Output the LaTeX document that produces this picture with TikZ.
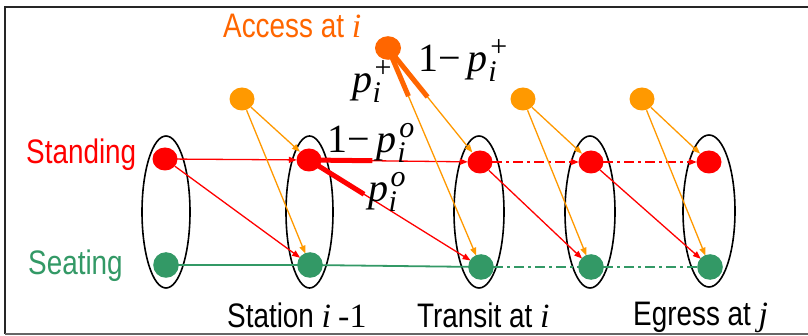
\documentclass[tikz,border=0pt]{standalone}
\usepackage{fontspec}
\usetikzlibrary{shapes.geometric,arrows.meta,calc}
\newfontfamily\arialf{Liberation Sans}
\newfontfamily\tnrf{Liberation Serif}
\definecolor{cred}{RGB}{255,0,0}
\definecolor{cgreen}{RGB}{51,153,102}
\definecolor{corange}{RGB}{255,153,0}
\definecolor{cdark}{RGB}{255,102,0}
\newcommand\nar[1]{\scalebox{0.82}[1]{\arialf #1}}
\newcommand\ti[1]{{\tnrf\itshape #1}}
\newcommand\pvar[1]{{\tnrf\itshape p}\kern0.5pt{\fontsize{30}{32}\selectfont\tnrf\rlap{\kern2pt\raisebox{15pt}{#1}}\raisebox{-10pt}{\itshape i}}}
\tikzset{
  dot/.style={circle, inner sep=0pt, minimum size=24pt},
  oval/.style={ellipse, draw=black, line width=1.6pt, inner sep=0pt, minimum width=48pt, minimum height=152pt},
  arr/.style={-{Triangle[length=8pt,width=6pt]}, line width=1.3pt},
  ddash/.style={dash pattern=on 10pt off 4pt on 3pt off 4pt},
  heavy/.style={line width=5pt},
  gline/.style={cgreen, line width=1.8pt},
  txt/.style={inner sep=0pt, anchor=base west, font=\fontsize{34}{40}\selectfont},
  mtxt/.style={inner sep=0pt, anchor=base west, font=\fontsize{40}{44}\selectfont},
}
\begin{document}
\begin{tikzpicture}[x=1pt,y={(0pt,-1pt)}]
\useasboundingbox (0,0) rectangle (808,336);
\fill[white] (0,0) rectangle (808,336);
% frame
\draw[line width=1.3pt, black!85] (808,7) -- (5,7) -- (5,334);
\draw[line width=1.3pt, black!60] (5,334) -- (808,334);

% ellipses
\node[oval] (E1) at (166,212) {};
\node[oval, minimum width=47pt] (E2) at (309.5,212) {};
\node[oval, minimum width=50pt] (E3) at (479,212) {};
\node[oval, minimum width=50pt] (E4) at (590,212) {};
\node[oval, minimum width=52pt] (E5) at (709,211) {};

% dot positions (filled later)
\node[dot] (R1) at (165,159) {};
\node[dot] (R2) at (309,160) {};
\node[dot] (R3) at (480,162) {};
\node[dot] (R4) at (591,162) {};
\node[dot] (R5) at (709,162) {};
\node[dot] (G1) at (166,265) {};
\node[dot] (G2) at (310,265) {};
\node[dot] (G3) at (481,267) {};
\node[dot] (G4) at (591,267) {};
\node[dot] (G5) at (710,267) {};
\node[dot] (O1) at (242,99) {};
\node[dot] (O2) at (523,99) {};
\node[dot] (O3) at (642,99) {};
\node[dot, minimum size=25pt] (A) at (388,48) {};

% green connectors
\draw[gline] (G1) -- (G2);
\draw[gline] (G2) -- (G3);
\draw[gline, ddash] (G3) -- (G4);
\draw[gline, ddash] (G4) -- (G5);

% red connectors
\draw[arr, cred] (R1) -- (R2);
\draw[arr, cred] (R1) -- (G2);
\draw[arr, cred] (R2) -- (R3);
\draw[arr, cred] (R2) -- (G3);
\draw[heavy, cred] (R2.center) -- ($(R2)!0.37!(R3)$);
\draw[heavy, cred] (R2.center) -- ($(R2)!0.32!(G3)$);
\draw[arr, cred, ddash] (R3) -- (R4);
\draw[arr, cred] (R3) -- (G4);
\draw[arr, cred, ddash] (R4) -- (R5);
\draw[arr, cred] (R4) -- (G5);

% orange connectors
\draw[arr, corange] (O1) -- (R2);
\draw[arr, corange] (O1) -- (G2);
\draw[arr, corange] (A) -- (R3);
\draw[arr, corange] (A) -- (G3);
\draw[heavy, cdark] (A.center) -- ($(A)!0.43!(R3)$);
\draw[heavy, cdark] (A.center) -- ($(A)!0.22!(G3)$);
\draw[arr, corange] (O2) -- (R4);
\draw[arr, corange] (O2) -- (G4);
\draw[arr, corange] (O3) -- (R5);
\draw[arr, corange] (O3) -- (G5);

% filled dots
\foreach \n in {R1,R2,R3,R4,R5} \fill[cred] (\n) circle[x radius=12.5pt, y radius=11.5pt];
\foreach \n in {G1,G2,G3,G4,G5} \fill[cgreen] (\n) circle[radius=12.8pt];
\foreach \n in {O1,O2,O3} \fill[corange] (\n) circle[x radius=12.5pt, y radius=11.5pt];
\fill[cdark] (A) circle[x radius=13pt, y radius=11.8pt];

% texts
\node[txt, text=cred] (standing) at (26,164) {\nar{Standing}};
\node[txt, text=cgreen] (seating) at (28,275) {\nar{Seating}};
\node[txt, text=cdark] (access) at (223,38) {\nar{Access at }\ti{i}};
\node[txt] (station) at (227,327) {\nar{Station }\ti{i}\hspace{7pt}{\tnrf -1}};
\node[txt] (transit) at (417,327) {\nar{Transit at }\ti{i}};
\node[txt] (egress) at (633,326) {\nar{Egress at }\ti{j}};

% probability labels
\node[mtxt] (l1) at (418,72) {{\tnrf 1−}\hspace{7pt}\pvar{+}};
\node[mtxt] (l2) at (352,93) {\pvar{+}};
\node[mtxt] (l3) at (327,153) {{\tnrf 1−}\hspace{7pt}\pvar{\itshape o}};
\node[mtxt] (l4) at (368,202) {\pvar{\itshape o}};
\end{tikzpicture}
\end{document}
